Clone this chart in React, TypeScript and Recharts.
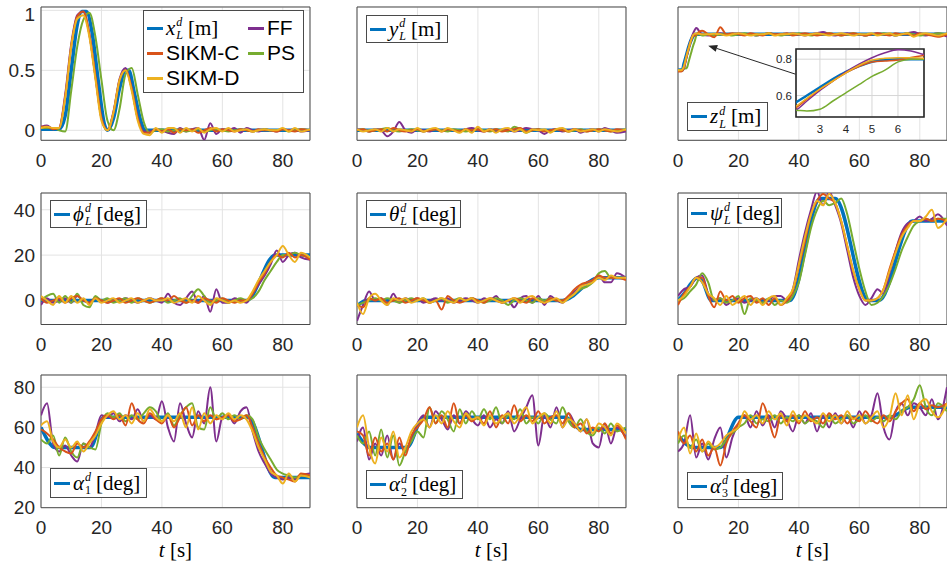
import React from 'react';
import { LineChart, Line, XAxis, YAxis, CartesianGrid, ReferenceArea, ReferenceLine } from 'recharts';

const BLUE = '#0072BD';
const ORANGE = '#D95319';
const YELLOW = '#EDB120';
const PURPLE = '#7E2F8E';
const GREEN = '#77AC30';
const GRID = '#e3e3e3';
const AXIS = '#4a4a4a';
const INK = '#262626';
const SANS = '"Liberation Sans", Arial, Helvetica, sans-serif';
const SERIF = '"Liberation Serif", "DejaVu Serif", serif';

// common sample times [s]
const T = [0, 2, 4, 6, 8, 10, 12, 14, 16, 18, 20, 22, 24, 26, 28, 30, 32, 34, 36, 38, 40, 42, 44, 46, 48, 50, 52, 54, 56, 58, 60, 62, 64, 66, 68, 70, 72, 74, 76, 78, 80, 82, 84, 86, 89];
const X_TICKS = [0, 20, 40, 60, 80];

// x_L
const xRefT = [0, 6, 8, 10, 12, 13.5, 15, 17, 19, 21, 22, 24, 26, 28, 29, 31, 33, 34.5, 89];
const xRef = [0.01, 0.01, 0.12, 0.5, 0.88, 0.99, 0.99, 0.8, 0.4, 0.05, 0, 0.1, 0.35, 0.5, 0.5, 0.3, 0.08, 0, 0];
const xSikmC = [0.03, 0.03, 0.01, 0.02, 0.28, 0.7, 0.95, 0.99, 0.8, 0.45,
  0.1, 0.0, 0.15, 0.42, 0.5, 0.35, 0.1, -0.02, -0.02, 0.01,
  -0.01, 0.01, -0.02, 0.01, 0.0, 0.01, -0.02, 0.0, 0.02, -0.01,
  0.01, 0.0, -0.01, 0.01, 0.0, -0.01, 0.01, 0.0, 0.0, -0.01,
  0.01, 0.0, -0.01, 0.01, 0.0];
const xSikmD = [0.02, 0.03, 0.02, 0.02, 0.27, 0.7, 0.93, 0.96, 0.78, 0.43,
  0.08, 0.0, 0.15, 0.42, 0.5, 0.33, 0.08, -0.03, -0.04, 0.02,
  -0.02, 0.02, 0.02, -0.02, 0.02, -0.01, 0.02, -0.02, 0.01, 0.02,
  -0.01, 0.02, -0.01, 0.0, 0.01, -0.01, 0.0, 0.01, 0.0, 0.0,
  0.02, -0.01, 0.02, -0.01, 0.01];
const xFF = [0.03, 0.04, 0.01, 0.02, 0.3, 0.72, 0.96, 0.99, 0.8, 0.45,
  0.1, 0.0, 0.16, 0.43, 0.52, 0.35, 0.1, -0.01, -0.01, 0.01,
  0.0, -0.02, -0.03, 0.02, -0.01, 0.01, 0.02, -0.08, 0.06, -0.03,
  0.01, 0.0, 0.02, -0.02, 0.02, 0.0, -0.01, 0.01, 0.0, -0.01,
  0.01, 0.0, 0.01, -0.01, 0.0];
const xPS = [0.02, 0.02, 0.02, 0.0, -0.01, 0.33, 0.7, 0.92, 0.98, 0.78,
  0.42, 0.08, 0.0, 0.18, 0.47, 0.52, 0.3, 0.07, -0.02, 0.0,
  0.01, -0.01, 0.0, 0.01, -0.01, 0.0, 0.01, -0.01, 0.0, 0.01,
  0.0, -0.01, 0.0, 0.01, 0.0, -0.01, 0.0, 0.01, 0.0, 0.0,
  0.01, -0.01, 0.0, 0.01, 0.0];

// y_L
const yRefT = [0, 89];
const yRef = [0, 0];
const ySikmC = [0.0, 0.01, -0.01, 0.0, 0.01, -0.01, 0.02, 0.0, -0.01, 0.0,
  0.01, -0.01, 0.0, 0.01, -0.01, 0.01, 0.0, -0.01, 0.01, 0.0,
  0.01, -0.01, 0.0, 0.01, -0.01, 0.0, 0.01, 0.02, -0.01, 0.0,
  0.01, -0.01, 0.0, 0.01, 0.0, -0.01, 0.01, 0.0, -0.01, 0.0,
  0.01, 0.0, -0.01, 0.01, 0.0];
const ySikmD = [0.01, -0.01, 0.0, 0.01, -0.01, 0.02, -0.01, 0.01, 0.0, -0.01,
  0.02, -0.01, 0.01, 0.02, -0.01, 0.02, 0.0, -0.02, 0.01, -0.02,
  0.03, -0.01, 0.01, -0.02, 0.01, 0.02, -0.01, 0.01, -0.02, 0.01,
  0.0, 0.01, -0.02, 0.01, 0.02, -0.01, 0.01, -0.01, 0.0, 0.01,
  -0.01, 0.01, 0.0, -0.01, 0.01];
const yFF = [0.01, 0.0, -0.01, 0.01, 0.0, -0.05, -0.01, 0.07, 0.0, -0.02,
  0.01, 0.0, -0.01, 0.01, 0.0, 0.01, 0.0, -0.01, 0.01, 0.02,
  0.0, -0.01, 0.01, -0.01, 0.0, 0.01, -0.01, 0.0, 0.02, 0.01,
  0.0, -0.03, 0.0, 0.01, -0.01, 0.0, 0.01, -0.02, 0.0, 0.01,
  -0.01, 0.02, 0.0, -0.02, -0.01];
const yPS = [0.0, 0.01, -0.01, 0.0, 0.01, 0.02, 0.0, -0.01, 0.0, 0.01,
  0.0, -0.01, 0.0, 0.01, 0.0, -0.01, 0.01, 0.0, -0.01, 0.0,
  0.01, 0.0, -0.01, 0.01, 0.0, -0.01, 0.03, 0.01, -0.02, 0.0,
  0.01, 0.0, -0.01, 0.01, 0.0, -0.01, 0.0, 0.01, -0.01, 0.0,
  0.01, 0.0, -0.01, 0.0, 0.01];

// z_L (denser sampling at the start, shown in the inset)
const zT = [0, 1, 2, 2.5, 3, 3.5, 4, 4.5, 5, 5.5, 6, 6.5, 7, 8,
  10, 12, 14, 16, 18, 20, 22, 24, 26, 28,
  30, 32, 34, 36, 38, 40, 42, 44, 46, 48,
  50, 52, 54, 56, 58, 60, 62, 64, 66, 68,
  70, 72, 74, 76, 78, 80, 82, 84, 86, 89];
const zRefT = [0, 1.5, 2, 2.5, 3, 3.5, 4, 4.5, 5, 5.5, 6, 89];
const zRef = [0.5, 0.505, 0.555, 0.6, 0.645, 0.69, 0.73, 0.762, 0.786, 0.797, 0.8, 0.8];
const zSikmC = [0.49, 0.49, 0.525, 0.58, 0.635, 0.68, 0.725, 0.76, 0.785, 0.79, 0.795, 0.81, 0.82, 0.83,
  0.8, 0.775, 0.86, 0.8, 0.81, 0.8, 0.79, 0.81, 0.8, 0.79,
  0.81, 0.8, 0.8, 0.81, 0.79, 0.8, 0.81, 0.8, 0.79, 0.8,
  0.81, 0.8, 0.79, 0.8, 0.81, 0.8, 0.79, 0.8, 0.81, 0.8,
  0.79, 0.81, 0.8, 0.8, 0.79, 0.81, 0.8, 0.79, 0.78, 0.8];
const zSikmD = [0.5, 0.5, 0.535, 0.585, 0.635, 0.68, 0.725, 0.765, 0.795, 0.805, 0.808, 0.808, 0.805, 0.8,
  0.8, 0.805, 0.8, 0.79, 0.8, 0.81, 0.8, 0.79, 0.8, 0.8,
  0.81, 0.79, 0.8, 0.8, 0.81, 0.8, 0.79, 0.8, 0.81, 0.8,
  0.79, 0.8, 0.81, 0.8, 0.79, 0.8, 0.8, 0.81, 0.79, 0.8,
  0.81, 0.79, 0.8, 0.81, 0.78, 0.8, 0.81, 0.8, 0.79, 0.81];
const zFF = [0.5, 0.5, 0.515, 0.57, 0.628, 0.68, 0.73, 0.772, 0.808, 0.835, 0.852, 0.845, 0.825, 0.8,
  0.79, 0.8, 0.81, 0.8, 0.8, 0.81, 0.8, 0.8, 0.79, 0.8,
  0.81, 0.8, 0.8, 0.8, 0.81, 0.8, 0.79, 0.8, 0.81, 0.82,
  0.8, 0.79, 0.8, 0.81, 0.8, 0.8, 0.79, 0.8, 0.81, 0.8,
  0.8, 0.79, 0.8, 0.81, 0.82, 0.8, 0.79, 0.8, 0.81, 0.78];
const zPS = [0.5, 0.5, 0.52, 0.515, 0.525, 0.57, 0.615, 0.66, 0.705, 0.74, 0.785, 0.8, 0.8, 0.79,
  0.8, 0.79, 0.8, 0.8, 0.79, 0.8, 0.81, 0.8, 0.79, 0.8,
  0.81, 0.8, 0.79, 0.8, 0.8, 0.81, 0.8, 0.79, 0.8, 0.8,
  0.81, 0.8, 0.79, 0.8, 0.81, 0.8, 0.79, 0.8, 0.8, 0.81,
  0.8, 0.79, 0.8, 0.81, 0.8, 0.79, 0.8, 0.8, 0.81, 0.8];

// phi_L [deg]
const phiRefT = [0, 68, 77.5, 89];
const phiRef = [0, 0, 20, 20];
const phiSikmC = [1, -1, 0, 1, -1, 1, 2, 0, -1, 1,
  0, -1, 0, 1, -1, 0, 1, 0, -1, 0,
  1, 0, 2, 0, -1, 0, -1, 1, 0, -1,
  1, 0, -1, 0, 0, 3, 8, 12, 17, 20,
  19, 21, 19, 20, 18];
const phiSikmD = [2, 0, -2, 2, -1, 2, -1, 1, -2, 1,
  -1, 0, 1, -1, 0, 1, -1, 0, 1, 0,
  0, 1, -1, 0, 1, -1, 2, 0, -2, 1,
  0, -1, 0, -1, 0, 4, 9, 13, 17, 20,
  24, 20, 17, 21, 19];
const phiFF = [-2, 1, -1, 0, 1, -1, 2, 0, -1, 1,
  0, -1, 0, 0, 1, 0, -1, 0, 1, 0,
  -1, 3, -1, -2, 1, 4, -1, 2, -5, 5,
  -1, -1, 1, 0, -1, 3, 7, 11, 16, 22,
  17, 20, 21, 19, 18];
const phiPS = [0, 2, 3, -1, 2, -1, 3, -2, -3, 2,
  0, 1, -1, 0, 1, -1, 1, 0, -1, 0,
  1, -1, 0, 1, -1, 2, 5, 2, -1, 0,
  1, -1, 0, 1, 0, 1, 4, 9, 13, 17,
  20, 20, 21, 20, 19];

// theta_L [deg]
const thetaRefT = [0, 3, 68, 80, 89];
const thetaRef = [-2.5, 0, 0, 10, 10];
const thetaSikmC = [-2, -3, 1, 0, 1, -1, 0, 1, -1, 0,
  1, 0, -1, 0, -4, 2, 0, -1, 0, 1,
  0, -1, 1, 0, -1, 0, 1, 0, -1, 1,
  0, -1, 1, 0, 0, 2, 5, 7, 8, 9,
  11, 10, 10, 10, 9];
const thetaSikmD = [-1, -6, 1, 3, 0, -2, 1, 0, 1, -1,
  0, 1, -1, 0, 1, 0, -1, 1, 0, 1,
  -1, 0, 1, 0, -1, 0, 1, -1, 1, 2,
  0, -1, 0, 1, -1, 1, 3, 6, 7, 8,
  10, 9, 11, 10, 10];
const thetaFF = [-9, -2, 4, 0, 1, -2, 3, -1, 1, 0,
  1, -1, 0, 1, 0, 1, -1, 0, 1, 0,
  -1, 1, 0, 2, -1, 0, -3, 1, 2, -1,
  2, -2, 2, 0, -1, 2, 4, 6, 8, 9,
  11, 8, 8, 12, 10];
const thetaPS = [-2, -1, 0, 1, 0, 1, 0, -1, 0, 1,
  0, 1, -1, 0, 1, -1, 0, 1, 0, 1,
  0, -1, 0, 1, 0, -2, 0, 1, 0, -1,
  1, 0, 1, 0, 0, 1, 3, 5, 6, 8,
  12, 13, 10, 10, 10];

// psi_L [deg]
const psiRefT = [0, 2, 4, 6.5, 8, 11, 37, 47, 52, 63, 66.5, 77.5, 89];
const psiRef = [0, 3, 7, 10, 8.5, 0, 0, 45, 45, 0, 0, 35, 35];
const psiSikmC = [-2, 3, 6, 10, 10, 2, -3, 4, 0, 2,
  -1, 1, 2, -1, 1, -2, 1, -2, 0, 4,
  15, 26, 38, 44, 47, 45, 43, 35, 24, 13,
  5, 0, 0, 1, 5, 14, 22, 29, 33, 35,
  35, 36, 35, 36, 35];
const psiSikmD = [0, 2, 6, 10, 8, 3, 1, -2, 2, -2,
  0, 2, -2, 1, -2, 1, 2, -2, 1, 5,
  16, 28, 38, 44, 42, 47, 43, 35, 24, 13,
  5, 0, 0, 1, 5, 13, 21, 28, 32, 35,
  35, 37, 40, 32, 36];
const psiFF = [2, 5, 6, 10, 11, 3, 0, 1, -2, 0,
  1, -1, 0, 1, -1, 0, 2, 2, 0, 5,
  18, 30, 40, 48, 42, 48, 42, 34, 22, 10,
  2, -2, 1, 5, 3, 12, 22, 30, 34, 35,
  37, 35, 36, 38, 33];
const psiPS = [0, 1, 4, 7, 12, 8, 0, 1, -1, 0,
  2, -6, 1, 0, -1, 1, -2, 0, -1, 2,
  8, 20, 32, 40, 44, 42, 43, 45, 38, 26,
  14, 4, -2, -1, 2, 7, 14, 22, 28, 33,
  35, 36, 35, 36, 36];

// alpha_1 [deg]
const a1RefT = [0, 4.7, 16.3, 20.8, 68.5, 77.4, 89];
const a1Ref = [60, 50, 50, 65, 65, 35, 35];
const a1SikmC = [59, 57, 54, 50, 48, 47, 52, 50, 53, 58,
  64, 66, 64, 66, 61, 72, 64, 62, 67, 64,
  62, 66, 60, 65, 70, 61, 66, 63, 66, 64,
  65, 66, 63, 64, 66, 60, 52, 45, 40, 36,
  35, 34, 33, 37, 36];
const a1SikmD = [61, 63, 53, 50, 54, 50, 53, 48, 52, 56,
  62, 66, 68, 64, 66, 62, 67, 63, 69, 65,
  63, 66, 63, 67, 60, 70, 59, 67, 62, 66,
  64, 67, 64, 66, 64, 58, 50, 44, 38, 36,
  32, 37, 33, 36, 35];
const a1FF = [66, 72, 52, 48, 51, 46, 43, 52, 50, 57,
  66, 65, 67, 63, 66, 64, 69, 63, 66, 64,
  73, 60, 53, 72, 62, 55, 68, 62, 80, 53,
  65, 66, 62, 68, 70, 58, 48, 42, 37, 35,
  34, 35, 34, 36, 37];
const a1PS = [54, 52, 56, 46, 55, 48, 45, 52, 50, 49,
  62, 67, 65, 67, 63, 66, 64, 67, 70, 68,
  63, 67, 61, 66, 70, 72, 60, 59, 70, 64,
  67, 64, 66, 64, 66, 64, 55, 49, 44, 39,
  37, 36, 35, 36, 36];

// alpha_2 [deg]
const a2RefT = [0, 4.4, 16.5, 22, 69, 74, 89];
const a2Ref = [57, 50, 50, 65, 65, 59, 59];
const a2SikmC = [58, 56, 46, 55, 48, 52, 44, 55, 46, 56,
  60, 64, 70, 62, 66, 60, 72, 62, 66, 63,
  65, 62, 68, 60, 66, 62, 71, 63, 66, 63,
  68, 62, 65, 66, 62, 67, 60, 62, 57, 60,
  58, 62, 57, 61, 54];
const a2SikmD = [60, 66, 50, 42, 55, 48, 58, 45, 50, 58,
  62, 64, 60, 66, 62, 68, 63, 60, 67, 64,
  65, 61, 66, 62, 65, 67, 62, 66, 70, 62,
  65, 67, 62, 68, 60, 64, 62, 58, 64, 57,
  62, 60, 56, 62, 57];
const a2FF = [53, 60, 44, 52, 46, 56, 44, 52, 48, 55,
  62, 66, 60, 68, 64, 59, 66, 62, 68, 64,
  61, 66, 60, 64, 62, 68, 58, 64, 70, 76,
  51, 66, 60, 70, 60, 67, 62, 58, 64, 52,
  50, 62, 52, 60, 55];
const a2PS = [56, 52, 58, 46, 59, 45, 56, 41, 48, 53,
  58, 55, 70, 62, 68, 64, 58, 69, 62, 68,
  64, 69, 64, 70, 62, 66, 64, 69, 62, 65,
  62, 67, 64, 62, 70, 63, 60, 64, 58, 56,
  60, 57, 62, 58, 60];

// alpha_3 [deg]
const a3RefT = [0, 5, 14, 20, 70, 77, 89];
const a3Ref = [56, 50, 50, 65, 65, 70, 70];
const a3SikmC = [58, 52, 56, 48, 54, 46, 50, 41, 52, 58,
  62, 66, 63, 60, 72, 64, 55, 66, 63, 66,
  62, 68, 63, 65, 62, 67, 64, 66, 62, 65,
  63, 68, 64, 62, 66, 63, 68, 72, 74, 68,
  72, 69, 71, 70, 72];
const a3SikmD = [54, 60, 47, 57, 48, 53, 50, 52, 56, 58,
  60, 68, 64, 66, 62, 68, 64, 67, 61, 68,
  63, 66, 64, 62, 67, 63, 66, 62, 68, 64,
  66, 62, 65, 68, 60, 65, 77, 66, 76, 64,
  72, 74, 68, 65, 72];
const a3FF = [48, 52, 66, 45, 52, 44, 54, 60, 45, 55,
  62, 66, 60, 68, 61, 66, 60, 68, 64, 58,
  66, 62, 67, 58, 66, 60, 67, 62, 66, 60,
  68, 62, 66, 77, 60, 54, 68, 72, 66, 72,
  70, 66, 74, 64, 80];
const a3PS = [52, 56, 50, 54, 48, 52, 49, 50, 54, 57,
  60, 62, 66, 62, 64, 63, 66, 62, 65, 63,
  66, 62, 64, 63, 60, 66, 62, 64, 66, 62,
  64, 66, 63, 65, 63, 66, 64, 68, 70, 74,
  81, 70, 66, 72, 68];

const pts = (ts: number[], vs: number[]) => ts.map((t, i) => ({ t, v: vs[i] }));

// layout (px) of the plot boxes
const COLS = [41, 357, 678];
const PLOT_W = 269;
const ROWS = [
  { top: 6.7, h: 133.3, domain: [-0.083, 1.028], ticks: [0, 0.5, 1] },
  { top: 192.5, h: 131.5, domain: [-10.6, 47.4], ticks: [0, 20, 40] },
  { top: 375, h: 132.7, domain: [20, 86.1], ticks: [20, 40, 60, 80] },
];
const YW = 40;
const MT = 4;
const MR = 4;
const XH = 36;
const TICK = { fill: INK, fontSize: 19, fontFamily: SANS };

type PanelDef = {
  row: number; col: number; t: number[];
  refT: number[]; ref: number[];
  c: number[]; d: number[]; ff: number[]; ps: number[];
};

const PANELS: PanelDef[] = [
  { row: 0, col: 0, t: T, refT: xRefT, ref: xRef, c: xSikmC, d: xSikmD, ff: xFF, ps: xPS },
  { row: 0, col: 1, t: T, refT: yRefT, ref: yRef, c: ySikmC, d: ySikmD, ff: yFF, ps: yPS },
  { row: 0, col: 2, t: zT, refT: zRefT, ref: zRef, c: zSikmC, d: zSikmD, ff: zFF, ps: zPS },
  { row: 1, col: 0, t: T, refT: phiRefT, ref: phiRef, c: phiSikmC, d: phiSikmD, ff: phiFF, ps: phiPS },
  { row: 1, col: 1, t: T, refT: thetaRefT, ref: thetaRef, c: thetaSikmC, d: thetaSikmD, ff: thetaFF, ps: thetaPS },
  { row: 1, col: 2, t: T, refT: psiRefT, ref: psiRef, c: psiSikmC, d: psiSikmD, ff: psiFF, ps: psiPS },
  { row: 2, col: 0, t: T, refT: a1RefT, ref: a1Ref, c: a1SikmC, d: a1SikmD, ff: a1FF, ps: a1PS },
  { row: 2, col: 1, t: T, refT: a2RefT, ref: a2Ref, c: a2SikmC, d: a2SikmD, ff: a2FF, ps: a2PS },
  { row: 2, col: 2, t: T, refT: a3RefT, ref: a3Ref, c: a3SikmC, d: a3SikmD, ff: a3FF, ps: a3PS },
];

function seriesLines(p: PanelDef, w: number, refW: number) {
  const list = [
    { key: 'ref', data: pts(p.refT, p.ref), color: BLUE, width: refW },
    { key: 'ff', data: pts(p.t, p.ff), color: PURPLE, width: w },
    { key: 'ps', data: pts(p.t, p.ps), color: GREEN, width: w },
    { key: 'c', data: pts(p.t, p.c), color: ORANGE, width: w },
    { key: 'd', data: pts(p.t, p.d), color: YELLOW, width: w },
  ];
  return list.map((s) => (
    <Line key={s.key} data={s.data} dataKey="v" type="monotone" stroke={s.color}
      strokeWidth={s.width} dot={false} activeDot={false} isAnimationActive={false} />
  ));
}

// arrow from the inset to the zoomed part of z_L
const ArrowShape = (props: any) => {
  const { x1, y1, x2, y2 } = props;
  const a = Math.atan2(y2 - y1, x2 - x1);
  const L = 9, W = 3.5;
  const bx = x2 - L * Math.cos(a), by = y2 - L * Math.sin(a);
  const p1 = `${bx + W * Math.sin(a)},${by - W * Math.cos(a)}`;
  const p2 = `${bx - W * Math.sin(a)},${by + W * Math.cos(a)}`;
  return (
    <g>
      <line x1={x1} y1={y1} x2={bx} y2={by} stroke={INK} strokeWidth={1} />
      <polygon points={`${x2},${y2} ${p1} ${p2}`} fill={INK} />
    </g>
  );
};

function Panel({ p }: { p: PanelDef }) {
  const r = ROWS[p.row];
  const left = COLS[p.col];
  return (
    <div style={{ position: 'absolute', left: left - YW, top: r.top - MT }}>
      <LineChart width={YW + PLOT_W + MR} height={MT + r.h + XH}
        margin={{ top: MT, right: MR, left: 0, bottom: 0 }}>
        <CartesianGrid stroke={GRID} strokeWidth={1} />
        <XAxis type="number" dataKey="t" domain={[0, 89]} ticks={X_TICKS} allowDataOverflow
          height={XH} tickSize={0} tickMargin={13} axisLine={false} tickLine={false} tick={TICK} />
        <YAxis type="number" dataKey="v" domain={r.domain} ticks={r.ticks} allowDataOverflow
          width={YW} tickSize={0} tickMargin={6} axisLine={false} tickLine={false}
          tick={p.col === 0 ? TICK : false} />
        <ReferenceArea x1={0} x2={89} y1={r.domain[0]} y2={r.domain[1]}
          fill="none" stroke={AXIS} strokeWidth={1} />
        {seriesLines(p, 2, 3.5)}
        {p.row === 0 && p.col === 2 && (
          <ReferenceLine segment={[{ x: 39, y: 0.467 }, { x: 10, y: 0.706 }]}
            stroke={INK} shape={ArrowShape} />
        )}
      </LineChart>
    </div>
  );
}

// zoom of z_L between 2 s and 7 s
const INSET = { left: 796, top: 49, w: 128, h: 68, x: [2.08, 7], y: [0.482, 0.856] };

function Inset() {
  const p = PANELS[2];
  const yw = 32, mt = 3, mr = 3, xh = 22;
  const tick = { fill: INK, fontSize: 11.5, fontFamily: SANS };
  return (
    <div style={{ position: 'absolute', left: INSET.left - yw, top: INSET.top - mt }}>
      <LineChart width={yw + INSET.w + mr} height={mt + INSET.h + xh}
        margin={{ top: mt, right: mr, left: 0, bottom: 0 }}>
        <CartesianGrid stroke="#d6d6d6" fill="#fff" fillOpacity={1} />
        <XAxis type="number" dataKey="t" domain={INSET.x} ticks={[3, 4, 5, 6]} allowDataOverflow
          height={xh} tickSize={0} tickMargin={8} axisLine={false} tickLine={false} tick={tick} />
        <YAxis type="number" dataKey="v" domain={INSET.y} ticks={[0.6, 0.8]} allowDataOverflow
          width={yw} tickSize={0} tickMargin={4} axisLine={false} tickLine={false} tick={tick} />
        {seriesLines(p, 1.5, 2.5)}
        <ReferenceArea x1={INSET.x[0]} x2={INSET.x[1]} y1={INSET.y[0]} y2={INSET.y[1]}
          fill="none" stroke={INK} strokeWidth={1.6} />
      </LineChart>
    </div>
  );
}

function Sym({ base, sub, upSub }: { base: string; sub: string; upSub?: boolean }) {
  return (
    <span style={{ display: 'inline-flex', alignItems: 'center', fontFamily: SERIF }}>
      <span style={{ fontStyle: 'italic', fontSize: 21 }}>{base}</span>
      <span style={{ display: 'inline-flex', flexDirection: 'column', fontSize: 12, lineHeight: '13px', marginLeft: 1, marginTop: 2 }}>
        <span style={{ fontStyle: 'italic', height: 13 }}>d</span>
        <span style={{ fontStyle: upSub ? 'normal' : 'italic', height: 13 }}>{sub}</span>
      </span>
    </span>
  );
}

function Entry({ color, children }: { color: string; children: React.ReactNode }) {
  return (
    <span style={{ display: 'inline-flex', alignItems: 'center', whiteSpace: 'nowrap' }}>
      <span style={{ display: 'inline-block', width: 16, height: 3, background: color, marginRight: 3 }} />
      {children}
    </span>
  );
}

function MathLabel({ base, sub, unit, upSub }: { base: string; sub: string; unit: string; upSub?: boolean }) {
  return (
    <span style={{ display: 'inline-flex', alignItems: 'center', fontFamily: SERIF, fontSize: 21, color: '#000' }}>
      <Sym base={base} sub={sub} upSub={upSub} />
      <span style={{ marginLeft: 5 }}>[{unit}]</span>
    </span>
  );
}

const boxStyle = (left: number, top: number, w: number, h: number): React.CSSProperties => ({
  position: 'absolute', left, top, width: w, height: h, boxSizing: 'border-box',
  border: `1px solid ${AXIS}`, background: '#fff', display: 'flex', alignItems: 'center', paddingLeft: 3,
});

const SINGLE_LEGENDS = [
  { left: 366, top: 15, w: 82, h: 28, base: 'y', sub: 'L', unit: 'm' },
  { left: 687, top: 102, w: 81, h: 29, base: 'z', sub: 'L', unit: 'm' },
  { left: 50, top: 200, w: 97, h: 28, base: 'ϕ', sub: 'L', unit: 'deg' },
  { left: 366, top: 200, w: 95, h: 28, base: 'θ', sub: 'L', unit: 'deg' },
  { left: 687, top: 198, w: 95, h: 30, base: 'ψ', sub: 'L', unit: 'deg' },
  { left: 50, top: 468, w: 97, h: 30, base: 'α', sub: '1', unit: 'deg', up: true },
  { left: 366, top: 470, w: 97, h: 29, base: 'α', sub: '2', unit: 'deg', up: true },
  { left: 687, top: 472, w: 96, h: 28, base: 'α', sub: '3', unit: 'deg', up: true },
];

function MainLegend() {
  const txt: React.CSSProperties = { fontFamily: SANS, fontSize: 21, color: '#000' };
  const cell = (x: number, y: number): React.CSSProperties => ({ position: 'absolute', left: x, top: y - 13, height: 26, display: 'flex', alignItems: 'center' });
  return (
    <div style={{ ...boxStyle(143, 10, 161, 83), display: 'block', paddingLeft: 0 }}>
      <div style={cell(3, 17)}><Entry color={BLUE}><MathLabel base="x" sub="L" unit="m" /></Entry></div>
      <div style={cell(3, 42)}><Entry color={ORANGE}><span style={txt}>SIKM-C</span></Entry></div>
      <div style={cell(3, 67)}><Entry color={YELLOW}><span style={txt}>SIKM-D</span></Entry></div>
      <div style={cell(104, 17)}><Entry color={PURPLE}><span style={txt}>FF</span></Entry></div>
      <div style={cell(104, 42)}><Entry color={GREEN}><span style={txt}>PS</span></Entry></div>
    </div>
  );
}

export default function App() {
  return (
    <div style={{ position: 'absolute', left: 0, top: 0, width: 947, height: 569, overflow: 'hidden', background: '#fff' }}>
      {PANELS.map((p, i) => <Panel key={i} p={p} />)}
      <Inset />
      <MainLegend />
      {SINGLE_LEGENDS.map((l, i) => (
        <div key={i} style={boxStyle(l.left, l.top, l.w, l.h)}>
          <Entry color={BLUE}><MathLabel base={l.base} sub={l.sub} unit={l.unit} upSub={l.up} /></Entry>
        </div>
      ))}
      {[175.5, 491.5, 812.5].map((cx, i) => (
        <div key={i} style={{ position: 'absolute', left: cx - 50, width: 100, top: 537, height: 26, lineHeight: '26px', textAlign: 'center', fontFamily: SERIF, fontSize: 21, color: '#000' }}>
          <i>t</i>&nbsp;[s]
        </div>
      ))}
    </div>
  );
}
